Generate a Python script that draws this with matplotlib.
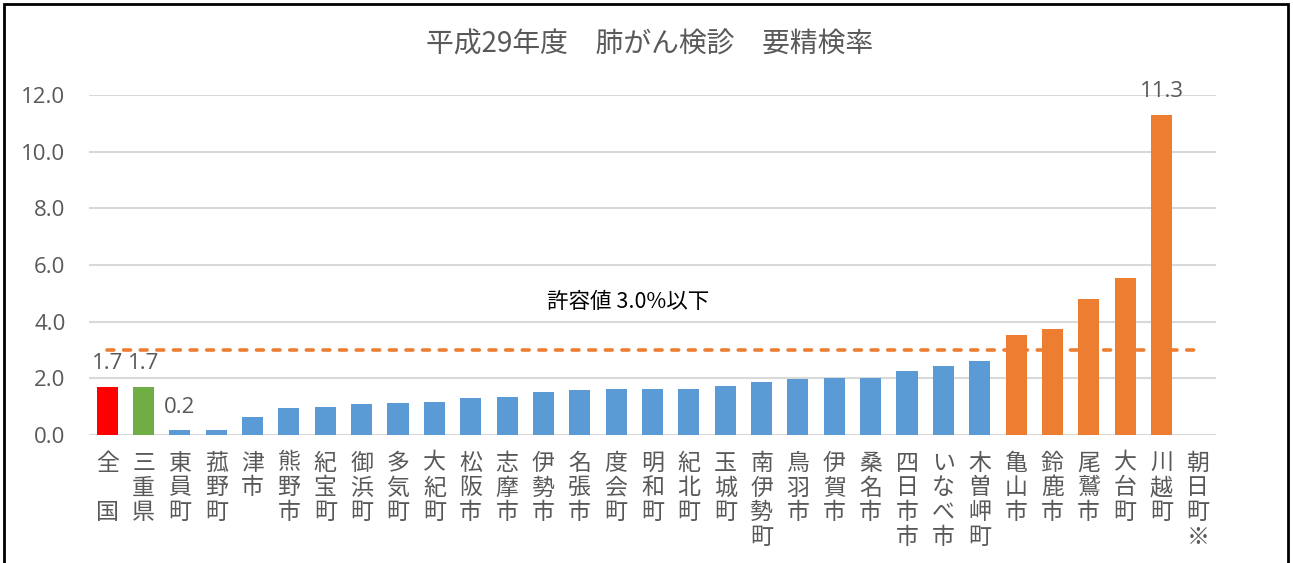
import matplotlib
matplotlib.use("Agg")
import matplotlib.pyplot as plt
from matplotlib.patches import Rectangle
import numpy as np

plt.rcParams['font.family'] = ['Noto Sans CJK JP', 'DejaVu Sans']

title = "平成29年度　肺がん検診　要精検率"
categories = ["全国", "三重県", "東員町", "菰野町", "津市", "熊野市", "紀宝町", "御浜町",
              "多気町", "大紀町", "松阪市", "志摩市", "伊勢市", "名張市", "度会町", "明和町",
              "紀北町", "玉城町", "南伊勢町", "鳥羽市", "伊賀市", "桑名市", "四日市市",
              "いなべ市", "木曽岬町", "亀山市", "鈴鹿市", "尾鷲市", "大台町", "川越町", "朝日町※"]
values = [1.7, 1.7, 0.17, 0.19, 0.63, 0.95, 1.0, 1.1, 1.12, 1.17, 1.31, 1.33, 1.51, 1.59,
          1.62, 1.62, 1.62, 1.74, 1.88, 1.98, 2.0, 2.02, 2.25, 2.45, 2.6, 3.52, 3.75, 4.8,
          5.53, 11.3, np.nan]
labelled = ["全国", "三重県", "東員町", "川越町"]
limit_value = 3.0
limit_text = "許容値 3.0%以下"
yticks = [0, 2, 4, 6, 8, 10, 12]

RED, GREEN, BLUE, ORANGE = "#ff0000", "#70ad47", "#5b9bd5", "#ed7d31"
colors = []
for c, v in zip(categories, values):
    if c == "全国":
        colors.append(RED)
    elif c == "三重県":
        colors.append(GREEN)
    elif v > limit_value:
        colors.append(ORANGE)
    else:
        colors.append(BLUE)

fig = plt.figure(figsize=(12.93, 5.63), dpi=100)
ax = fig.add_axes([89/1293, 1-435/563, (1216-89)/1293, (435-95)/563])

x = np.arange(len(categories))
ax.bar(x, values, width=0.58, color=colors, zorder=3)
ax.plot(x, [limit_value]*len(x), color=ORANGE, lw=2.6, ls=(0, (1.9, 2.7)),
        dash_capstyle='round', zorder=4)

ax.set_xlim(-0.5, len(categories)-0.5)
ax.set_ylim(0, 12)
ax.set_yticks(yticks)
ax.set_yticklabels([f"{t:.1f}" for t in yticks], family=['Open Sans', 'DejaVu Sans'],
                   fontsize=16, color="#595959")
ax.yaxis.grid(True, color="#d9d9d9", lw=1.5, zorder=0)
ax.set_axisbelow(True)
for s in ax.spines.values():
    s.set_visible(False)
ax.tick_params(axis='y', length=0, pad=17)
ax.tick_params(axis='x', length=0, pad=12)

def vert(lbl):
    if lbl == "全国":
        return "全\n\n国"
    return "\n".join(lbl)

ax.set_xticks(x)
ax.set_xticklabels([vert(c) for c in categories], fontsize=16.5, color="#595959",
                   linespacing=1.1)

for xi, c, v in zip(x, categories, values):
    if c in labelled:
        ax.annotate(f"{v:.1f}", (xi, v), xytext=(0, 9), textcoords='offset points',
                    ha='center', va='bottom', fontsize=16, color="#595959",
                    family=['Open Sans', 'DejaVu Sans'], annotation_clip=False)

ax.text(628/1293, 1-302/563, limit_text, transform=fig.transFigure, ha='center', va='center',
        fontsize=15.5, color="black")

fig.text(650/1293, 1-45/563, title, ha='center', va='center', fontsize=20, color="#595959")

fig.patches.append(Rectangle((4/1293, -0.1), (1288-4)/1293, 1.1-4/563, transform=fig.transFigure,
                             fill=False, edgecolor='black', lw=2, clip_on=False))

fig.savefig("out.png", dpi=100)
